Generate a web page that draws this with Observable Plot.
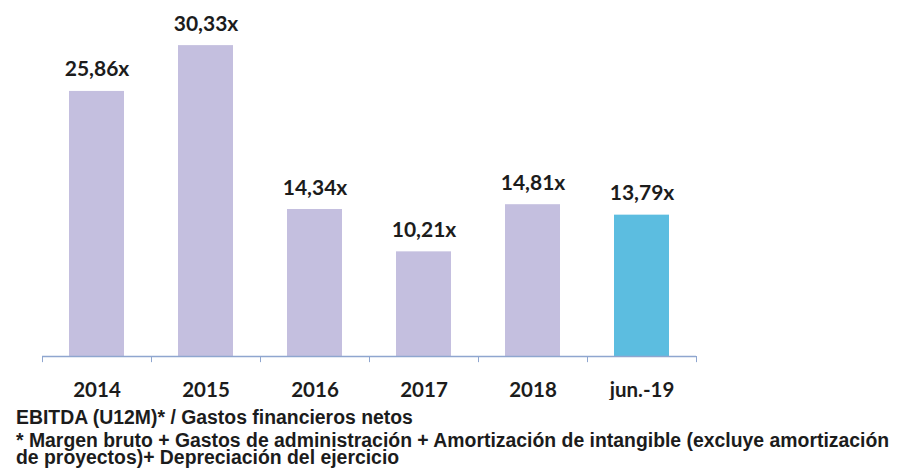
<!DOCTYPE html>
<html>
<head>
<meta charset="utf-8">
<script src="https://cdn.jsdelivr.net/npm/d3@7"></script>
<script src="https://cdn.jsdelivr.net/npm/@observablehq/plot@0.6"></script>
<style>
  body { margin: 0; background: #fff; width: 900px; height: 469px; overflow: hidden; }
  #chart svg { display: block; }
  .cap { font-family: "Liberation Sans", Arial, sans-serif; font-weight: bold; color: #1c1c1c; font-size: 19.4px; margin-left: 16px; white-space: normal; }
  .cap1 { margin-top: 7px; line-height: 20px; }
  .cap2 { margin-top: 5px; line-height: 17px; width: 884px; }
</style>
</head>
<body>
<div id="chart"></div>
<div class="cap cap1">EBITDA (U12M)* / Gastos financieros netos</div>
<div class="cap cap2">* Margen bruto + Gastos de administración + Amortización de intangible (excluye amortización de proyectos)+ Depreciación del ejercicio</div>
<script>
const periods = ["2014", "2015", "2016", "2017", "2018", "jun.-19"];
const ratios = [25.86, 30.33, 14.34, 10.21, 14.81, 13.79];
const highlight = ["jun.-19"];

const data = periods.map((p, i) => ({ period: p, value: ratios[i], hl: highlight.includes(p) }));
const fmt = v => v.toFixed(2).replace(".", ",") + "x";

const marginLeft = 42, marginRight = 204, width = 900;
const step = (width - marginLeft - marginRight) / periods.length;
const tickData = periods.map(p => ({ period: p, off: -step / 2 }))
  .concat([{ period: periods[periods.length - 1], off: step / 2 }]);

const chart = Plot.plot({
  width, height: 400,
  marginTop: 28, marginBottom: 44, marginLeft, marginRight,
  style: { fontFamily: "Lato, sans-serif", background: "#fff" },
  x: { domain: periods, paddingInner: 0.5, paddingOuter: 0.25, label: null },
  y: { domain: [0, 32], axis: null },
  marks: [
    Plot.barY(data, { x: "period", y: "value", fill: d => d.hl ? "#5cbde0" : "#c4bfdf" }),
    Plot.ruleY([0], { stroke: "#8fa6cf", strokeWidth: 1.3 }),
    ...tickData.map(t => Plot.ruleX([t], { x: "period", y1: 0, y2: -0.6, dx: t.off, stroke: "#8fa6cf", strokeWidth: 1 })),
    Plot.text(data, { x: "period", y: "value", text: d => fmt(d.value), lineAnchor: "bottom", dy: -15, fontSize: 21, fontWeight: "bold", fill: "#1c1c1c" }),
    Plot.axisX({ tickSize: 0, tickPadding: 26, fontSize: 20.5, fontWeight: "bold", fill: "#1c1c1c", label: null })
  ]
});
document.getElementById("chart").appendChild(chart);
</script>
</body>
</html>
